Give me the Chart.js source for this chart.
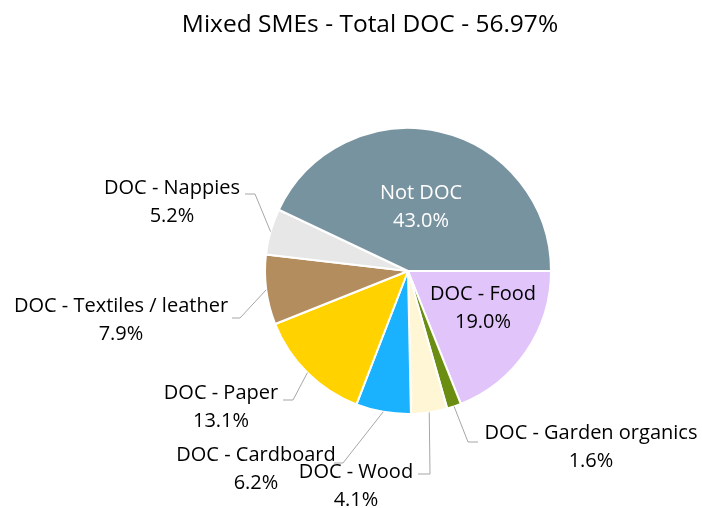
<!DOCTYPE html>
<html>
<head>
<meta charset="utf-8">
<script src="https://cdn.jsdelivr.net/npm/chart.js@4.4.1/dist/chart.umd.min.js"></script>
<style>
  html, body { margin: 0; padding: 0; background: #ffffff; }
  #wrap { width: 702px; height: 508px; position: relative; }
</style>
</head>
<body>
<div id="wrap"><canvas id="chart" width="702" height="508"></canvas></div>
<script>
// Composition of waste for mixed SMEs, clockwise from 3 o'clock
const categories = [
  'DOC - Food',
  'DOC - Garden organics',
  'DOC - Wood',
  'DOC - Cardboard',
  'DOC - Paper',
  'DOC - Textiles / leather',
  'DOC - Nappies',
  'Not DOC'
];
const shares = [19.0, 1.6, 4.1, 6.2, 13.1, 7.9, 5.2, 43.0];
const sliceColors = [
  '#E0C4FA', '#6B8E12', '#FFF6D5', '#1AB2FF',
  '#FFD200', '#B48D5E', '#E7E7E7', '#7893A0'
];
const chartTitle = 'Mixed SMEs - Total DOC - 56.97%';

// Label placement: text centre (x, first line y), optional leader elbow and end
const labelLayout = [
  { x: 483, y: 294, color: '#000000' },
  { x: 591, y: 433, elbow: [468, 442], end: [478, 442] },
  { x: 356, y: 472, elbow: [430, 474], end: [418, 474] },
  { x: 256, y: 455, elbow: [343, 463], end: [334, 463] },
  { x: 221, y: 393, elbow: [293, 400], end: [283, 400] },
  { x: 121, y: 306, elbow: [240, 318], end: [232, 318] },
  { x: 172, y: 188, elbow: [255, 194], end: [245, 194] },
  { x: 421, y: 193, color: '#FFFFFF' }
];
const FONT = '"Open Sans", Lato, "Liberation Sans", sans-serif';
const LINE_GAP = 28;

const labelPlugin = {
  id: 'sliceLabels',
  afterDraw(chart) {
    const ctx = chart.ctx;
    const arcs = chart.getDatasetMeta(0).data;
    ctx.save();
    // title
    ctx.fillStyle = '#000000';
    ctx.textAlign = 'center';
    ctx.textBaseline = 'middle';
    ctx.font = '24.5px ' + FONT;
    ctx.fillText(chartTitle, 370, 25);

    ctx.font = '20px ' + FONT;
    arcs.forEach((arc, i) => {
      const lay = labelLayout[i];
      const value = chart.data.datasets[0].data[i];
      if (lay.elbow) {
        const mid = (arc.startAngle + arc.endAngle) / 2;
        const sx = arc.x + Math.cos(mid) * arc.outerRadius;
        const sy = arc.y + Math.sin(mid) * arc.outerRadius;
        ctx.strokeStyle = '#A6A6A6';
        ctx.lineWidth = 1;
        ctx.beginPath();
        ctx.moveTo(sx, sy);
        ctx.lineTo(lay.elbow[0], lay.elbow[1]);
        ctx.lineTo(lay.end[0], lay.end[1]);
        ctx.stroke();
      }
      ctx.fillStyle = lay.color || '#000000';
      ctx.fillText(chart.data.labels[i], lay.x, lay.y);
      ctx.fillText(value.toFixed(1) + '%', lay.x, lay.y + LINE_GAP);
    });
    ctx.restore();
  }
};

new Chart(document.getElementById('chart'), {
  type: 'pie',
  data: {
    labels: categories,
    datasets: [{
      data: shares,
      backgroundColor: sliceColors,
      borderColor: '#FFFFFF',
      borderWidth: 2
    }]
  },
  options: {
    responsive: false,
    animation: false,
    rotation: 90,
    layout: { padding: { top: 127, bottom: 93, left: 264, right: 150 } },
    plugins: {
      legend: { display: false },
      title: { display: false },
      tooltip: { enabled: false }
    }
  },
  plugins: [labelPlugin]
});
</script>
</body>
</html>
